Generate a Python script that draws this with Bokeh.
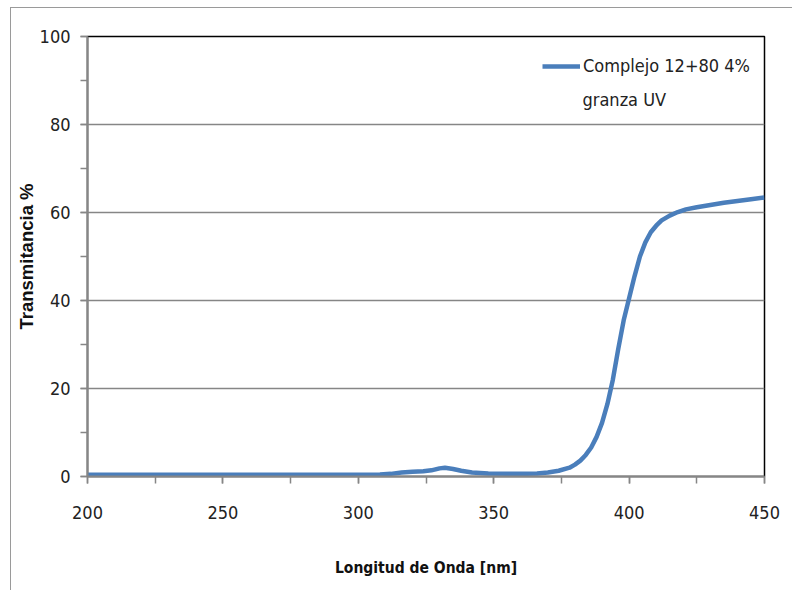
from bokeh.plotting import figure
from bokeh.models import Range1d, SingleIntervalTicker, Legend, LegendItem, Label
from bokeh.embed import file_html
from bokeh.resources import INLINE

wavelength = [200, 250, 300, 308, 312, 316, 320, 324, 327, 330, 332, 335, 338, 342, 348, 355,
              362, 366, 370, 374, 378, 380, 382, 384, 386, 388, 390, 392, 394, 396, 398, 400,
              402, 404, 406, 408, 410, 412, 415, 418, 421, 425, 430, 435, 440, 445, 450]
transmit = [0.4, 0.4, 0.4, 0.45, 0.6, 0.9, 1.1, 1.2, 1.4, 1.85, 2.0, 1.7, 1.3, 0.9, 0.7, 0.6,
            0.6, 0.7, 0.9, 1.3, 2.0, 2.7, 3.6, 4.9, 6.6, 9.0, 12.2, 16.5, 22.0, 29.0, 35.5, 40.5,
            45.5, 50.0, 53.2, 55.5, 57.0, 58.2, 59.3, 60.1, 60.7, 61.2, 61.7, 62.2, 62.6, 63.0, 63.4]

series_label = "Complejo 12+80 4%"
series_label2 = "granza UV"
x_title = "Longitud de Onda [nm]"
y_title = "Transmitancia %"

GRAY = "#868686"
FONT = "'DejaVu Sans Condensed', 'Liberation Sans Narrow', Lato, sans-serif"

p = figure(frame_width=677, frame_height=440,
           min_border_left=76, min_border_top=28, min_border_right=28, min_border_bottom=114,
           x_range=Range1d(200, 450), y_range=Range1d(0, 100),
           output_backend="svg", toolbar_location=None)
p.styles = {"margin-left": "10px", "margin-top": "7px",
            "border-left": "1px solid #9a9a9a", "border-top": "1px solid #9a9a9a"}

r = p.line(wavelength, transmit, line_color="#4A7EBB", line_width=4.5)

p.outline_line_color = "#000000"
p.outline_line_width = 1.5
p.xgrid.visible = False
p.ygrid.grid_line_color = GRAY
p.ygrid.grid_line_width = 1.5
p.ygrid.ticker = SingleIntervalTicker(interval=20)

p.xaxis.ticker = SingleIntervalTicker(interval=50, num_minor_ticks=2)
p.yaxis.ticker = SingleIntervalTicker(interval=20, num_minor_ticks=2)
for ax in (p.xaxis, p.yaxis):
    ax.axis_line_color = GRAY
    ax.axis_line_width = 2
    ax.major_tick_line_color = GRAY
    ax.minor_tick_line_color = GRAY
    ax.major_tick_line_width = 1.5
    ax.minor_tick_line_width = 1.5
    ax.major_tick_in = 0
    ax.minor_tick_in = 0
    ax.major_tick_out = 7
    ax.minor_tick_out = 7
    ax.major_label_text_font = FONT
    ax.major_label_text_font_size = "18px"
    ax.major_label_text_color = "#222222"
    ax.axis_label_text_font_style = "bold"
    ax.axis_label_text_color = "#111111"

p.xaxis.major_label_standoff = 22
p.yaxis.major_label_standoff = 10
p.xaxis.axis_label = x_title
p.xaxis.axis_label_text_font = FONT
p.xaxis.axis_label_text_font_size = "15.5px"
p.xaxis.axis_label_standoff = 37
p.yaxis.axis_label = y_title
p.yaxis.axis_label_text_font = "Liberation Sans"
p.yaxis.axis_label_text_font_size = "18.5px"
p.yaxis.axis_label_standoff = 0

legend = Legend(items=[LegendItem(label=series_label, renderers=[r])],
                location=(455, 400), border_line_color=None, background_fill_alpha=0,
                label_text_font=FONT, label_text_font_size="18px", label_text_color="#222222",
                glyph_width=38, padding=0, margin=0, label_standoff=3, label_height=20)
p.add_layout(legend, "center")
p.add_layout(Label(x=495, y=367, x_units="screen", y_units="screen", text=series_label2,
                   text_font=FONT, text_font_size="18px", text_color="#222222"))

open("out.html", "w").write(file_html(p, INLINE))
